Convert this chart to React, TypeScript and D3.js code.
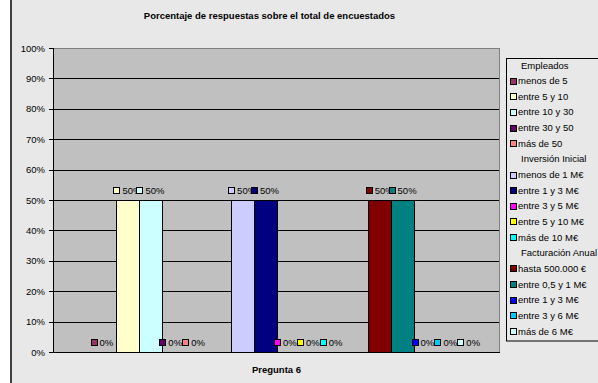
import React from "react";
import * as d3 from "d3";

const categories = ["Pregunta 6"];
const seriesNames = [
  "Empleados", "menos de 5", "entre 5 y 10", "entre 10 y 30", "entre 30 y 50", "más de 50",
  "Inversión Inicial", "menos de 1 M€", "entre 1 y 3 M€", "entre 3 y 5 M€", "entre 5 y 10 M€", "más de 10 M€",
  "Facturación Anual", "hasta 500.000 €", "entre 0,5 y 1 M€", "entre 1 y 3 M€", "entre 3 y 6 M€", "más de 6 M€",
];
const seriesValues: (number | null)[] = [
  null, 0, 0.5, 0.5, 0, 0,
  null, 0.5, 0.5, 0, 0, 0,
  null, 0.5, 0.5, 0, 0, 0,
];
const seriesColors: (string | null)[] = [
  null, "#993366", "#FFFFCC", "#CCFFFF", "#660066", "#FF8080",
  null, "#CCCCFF", "#000080", "#FF00FF", "#FFFF00", "#00FFFF",
  null, "#800000", "#008080", "#0000FF", "#00CCFF", "#CCFFFF",
];
const yTicks = [0, 0.1, 0.2, 0.3, 0.4, 0.5, 0.6, 0.7, 0.8, 0.9, 1];
const title = "Porcentaje de respuestas sobre el total de encuestados";

const W = 598, H = 383;
const plot = { left: 53, right: 500, top: 48, bottom: 352 };
const FONT = "Liberation Sans, Arial, sans-serif";
const FS = 9.5;

export default function App() {
  const y = d3.scaleLinear().domain([0, 1]).range([plot.bottom, plot.top]);
  const x0 = d3.scaleBand<string>().domain(categories).range([plot.left, plot.right])
    .paddingInner(0).paddingOuter(0.75 / 18);
  const x1 = d3.scaleBand<number>().domain(d3.range(seriesNames.length)).range([0, x0.bandwidth()]);
  const pct = d3.format(".0%");
  const legendRow = d3.scaleLinear().domain([0, seriesNames.length - 1]).range([65, 331]);

  return (
    <div style={{ position: "fixed", left: 0, top: 0, width: W, height: H, overflow: "hidden" }}>
      <svg width={W} height={H} style={{ display: "block", fontFamily: FONT }}>
        <rect x={0} y={0} width={W} height={H} fill="#ffffff" />
        <rect x={12} y={0} width={W - 12} height={H} fill="#e8e8e8" />
        <line x1={11} x2={11} y1={0} y2={H} stroke="#404040" strokeWidth={2} />
        <text x={269.5} y={18.5} textAnchor="middle" fontSize={9.5} fontWeight="bold" fill="#000">{title}</text>

        <rect x={plot.left} y={plot.top} width={plot.right - plot.left} height={plot.bottom - plot.top} fill="#c0c0c0" />
        {yTicks.slice(1, -1).map((t) => (
          <line key={t} x1={plot.left} x2={plot.right} y1={Math.round(y(t)) + 0.5} y2={Math.round(y(t)) + 0.5} stroke="#000" strokeWidth={1} />
        ))}
        <rect x={plot.left + 0.5} y={plot.top + 0.5} width={plot.right - plot.left - 1} height={plot.bottom - plot.top} fill="none" stroke="#808080" strokeWidth={1} />

        {categories.map((c) => (
          <g key={c}>
            {seriesValues.map((v, i) => {
              if (v === null || v === 0) return null;
              const bx = (x0(c) as number) + (x1(i) as number);
              return (
                <rect key={i} x={Math.round(bx) + 0.5} y={Math.round(y(v)) + 0.5} width={Math.round(x1.bandwidth())}
                  height={Math.round(y(0)) - Math.round(y(v))} fill={seriesColors[i] as string} stroke="#000" strokeWidth={1} />
              );
            })}
          </g>
        ))}

        <line x1={plot.left + 0.5} x2={plot.left + 0.5} y1={plot.top} y2={plot.bottom + 0.5} stroke="#000" />
        <line x1={plot.left} x2={plot.right} y1={plot.bottom + 0.5} y2={plot.bottom + 0.5} stroke="#000" />
        {yTicks.map((t) => (
          <g key={t}>
            <line x1={plot.left - 4} x2={plot.left} y1={Math.round(y(t)) + 0.5} y2={Math.round(y(t)) + 0.5} stroke="#000" />
            <text x={45} y={y(t) + 3.5} textAnchor="end" fontSize={FS} fill="#000">{pct(t)}</text>
          </g>
        ))}

        {categories.map((c) => (
          <g key={c + "lbl"}>
            {seriesValues.map((v, i) => {
              if (v === null) return null;
              const cx = (x0(c) as number) + (x1(i) as number) + x1.bandwidth() / 2;
              const ly = y(v) - 10;
              const left = cx - 14;
              return (
                <g key={i}>
                  <rect x={Math.round(left) + 0.5} y={Math.round(ly - 3) + 0.5} width={6} height={6} fill={seriesColors[i] as string} stroke="#000" />
                  <text x={left + 9} y={ly + 3.5} fontSize={FS} fill="#000">{pct(v)}</text>
                </g>
              );
            })}
          </g>
        ))}

        <text x={276.5} y={372.5} textAnchor="middle" fontSize={FS} fontWeight="bold" fill="#000">{categories[0]}</text>

        <rect x={506.5} y={58.5} width={120} height={282.5} fill="#e8e8e8" stroke="#000" />
        {seriesNames.map((n, i) => {
          const ry = legendRow(i);
          const col = seriesColors[i];
          return (
            <g key={i}>
              {col && <rect x={510.5} y={Math.round(ry - 3) + 0.5} width={6} height={6} fill={col} stroke="#000" />}
              <text x={col ? 518 : 521} y={ry + 3.5} fontSize={FS} fill="#000">{n}</text>
            </g>
          );
        })}
      </svg>
    </div>
  );
}
